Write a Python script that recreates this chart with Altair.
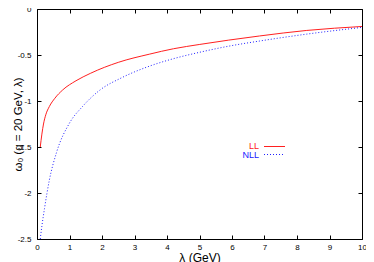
import altair as alt
import pandas as pd

# LL curve (red, solid)
lam_ll = [0.1, 0.15, 0.2, 0.27, 0.38, 0.55, 0.79, 1.2, 1.64, 2.5, 3.47, 4.2, 5.01, 5.9, 6.85, 8.3, 10.0]
val_ll = [-1.50, -1.36, -1.25, -1.15, -1.06, -0.97, -0.88, -0.78, -0.70, -0.58, -0.49, -0.432, -0.385, -0.338, -0.293, -0.233, -0.19]

# NLL curve (blue, dotted)
lam_nll = [0.1, 0.15, 0.23, 0.38, 0.6, 1.0, 1.4, 1.94, 2.6, 3.47, 4.2, 5.01, 5.9, 6.85, 8.3, 10.0]
val_nll = [-2.50, -2.36, -2.17, -1.86, -1.56, -1.24, -1.06, -0.88, -0.748, -0.62, -0.54, -0.47, -0.404, -0.348, -0.273, -0.20]

x_ticks = [0, 1, 2, 3, 4, 5, 6, 7, 8, 9, 10]
y_ticks = [0, -0.5, -1, -1.5, -2, -2.5]

leg_labels = ["LL", "NLL"]
leg_colors = ["#ff2020", "#2020ff"]

W, H = 325, 230
TL = 4  # tick length (inward)

df = pd.concat([
    pd.DataFrame({"lam": lam_ll, "w": val_ll, "s": leg_labels[0]}),
    pd.DataFrame({"lam": lam_nll, "w": val_nll, "s": leg_labels[1]}),
])

xs = alt.Scale(domain=[0, 10], nice=False, zero=False)
ys = alt.Scale(domain=[-2.5, 0], nice=False, zero=False)

FONT = "Liberation Sans"

common = dict(ticks=True, tickSize=TL, tickWidth=1, tickColor="black", offset=-TL,
              domain=False, grid=False)

xaxis = alt.Axis(orient="bottom", values=x_ticks, labelFontSize=8,
                 labelFont=FONT, labelColor="black", labelPadding=4, labelOverlap=False,
                 labelFlush=False, title="λ (GeV)",
                 titleFont=FONT, titleFontSize=12, titleFontWeight="normal", titleColor="black",
                 titlePadding=1, format="d", **common)
yaxis = alt.Axis(orient="left", values=y_ticks, labelFontSize=8,
                 labelFont=FONT, labelColor="black", labelPadding=6, labelOverlap=False,
                 labelFlush=False, title="ω₀ (q = 20 GeV, λ)",
                 titleFont=FONT, titleFontSize=11.5, titleFontWeight="normal", titleColor="black",
                 titleX=-23, titleBaseline="middle",
                 labelExpr="datum.value == 0 ? '0' : '-' + format(abs(datum.value), '')", **common)
xaxis_top = alt.Axis(orient="top", values=x_ticks, labels=False, title=None, **common)
yaxis_right = alt.Axis(orient="right", values=y_ticks, labels=False, title=None, **common)

ll = alt.Chart(df[df.s == leg_labels[0]]).mark_line(
    color=leg_colors[0], strokeWidth=1, interpolate="monotone").encode(
    x=alt.X("lam:Q", scale=xs, axis=xaxis), y=alt.Y("w:Q", scale=ys, axis=yaxis))
nll = alt.Chart(df[df.s == leg_labels[1]]).mark_line(
    color=leg_colors[1], strokeWidth=1, strokeDash=[1, 2], interpolate="monotone").encode(
    x=alt.X("lam:Q", scale=xs, axis=xaxis), y=alt.Y("w:Q", scale=ys, axis=yaxis))

t_ll = alt.Chart(pd.DataFrame({"l": [leg_labels[0]]})).mark_text(
    align="right", baseline="middle", font=FONT, fontSize=9, color=leg_colors[0]).encode(
    text="l:N", x=alt.value(222), y=alt.value(137))
t_nll = alt.Chart(pd.DataFrame({"l": [leg_labels[1]]})).mark_text(
    align="right", baseline="middle", font=FONT, fontSize=9, color=leg_colors[1]).encode(
    text="l:N", x=alt.value(222), y=alt.value(145.5))
r_ll = alt.Chart(pd.DataFrame({"l": [leg_labels[0]]})).mark_rule(color=leg_colors[0], strokeWidth=1).encode(
    x=alt.value(227), x2=alt.value(248), y=alt.value(137.5))
r_nll = alt.Chart(pd.DataFrame({"l": [leg_labels[1]]})).mark_rule(
    color=leg_colors[1], strokeWidth=1, strokeDash=[1, 2]).encode(
    x=alt.value(227), x2=alt.value(248), y=alt.value(145.5))

main = alt.layer(ll, nll, t_ll, t_nll, r_ll, r_nll)

# invisible layer carrying the mirrored (top/right) tick axes
mirror = alt.Chart(df).mark_point(opacity=0).encode(
    x=alt.X("lam:Q", scale=xs, axis=xaxis_top), y=alt.Y("w:Q", scale=ys, axis=yaxis_right))

chart = alt.layer(main, mirror).resolve_scale(x="independent", y="independent").resolve_axis(
    x="independent", y="independent").properties(
    width=W, height=H,
    autosize=alt.AutoSizeParams(type="none"),
    padding={"left": 29, "top": 1, "right": 4, "bottom": 23},
    background="white",
).configure_view(stroke="black", strokeWidth=1)

chart.save("out.html", embed_options={"renderer": "svg", "actions": False})
